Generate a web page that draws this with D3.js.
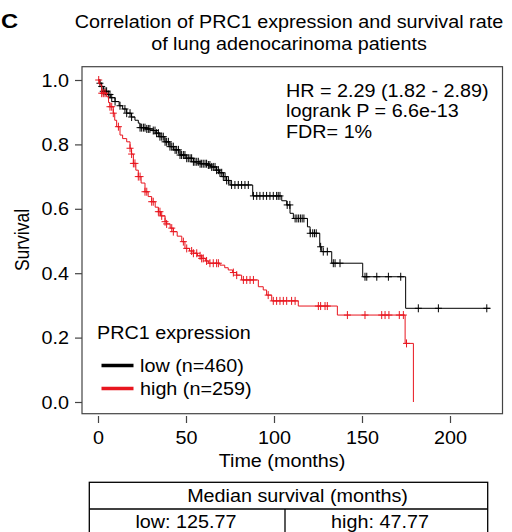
<!DOCTYPE html>
<html>
<head>
<meta charset="utf-8">
<script src="https://cdn.jsdelivr.net/npm/d3@7"></script>
<style>
  body { margin: 0; background: #fff; }
  text { font-family: "Liberation Sans", Arial, sans-serif; fill: #000; }
</style>
</head>
<body>
<div id="container"></div>
<script>
var w = 512;
var h = 532;
var FS = 17.5;   // font size
var SX = 1.13;   // the reference is a little stretched sideways

// ---- data ----
var titleLines = ["Correlation of PRC1 expression and survival rate", "of lung adenocarinoma patients"];
var statLines = ["HR = 2.29 (1.82 - 2.89)", "logrank P = 6.6e-13", "FDR= 1%"];
var legendTitle = "PRC1 expression";
var groups = ["low (n=460)", "high (n=259)"];
var groupColors = ["#000000", "#e8161f"];
var medianTitle = "Median survival (months)";
var medians = ["low: 125.77", "high: 47.77"];
var xTicks = [0, 50, 100, 150, 200];
var yTicks = [0, 0.2, 0.4, 0.6, 0.8, 1.0];

// low group: step times and survival after each step (last = end of follow-up)
var lowTime = [0, 1, 2, 3, 5, 7, 9.7, 12, 14, 16.3, 19, 21, 22.9, 23.9, 27, 31.4, 33, 35.2, 38, 40.9,
  43, 46.6, 50, 54.2, 58, 61.8, 64, 67.4, 69, 71.2, 73, 75, 87.9, 104.4, 107.2, 109.1, 111, 119,
  120.5, 126, 127.1, 132.8, 150.4, 174.8, 223];
var lowSurv = [1.0, 0.99, 0.98, 0.965, 0.955, 0.945, 0.933, 0.92, 0.91, 0.897, 0.885, 0.875, 0.866, 0.852, 0.848, 0.843, 0.835, 0.824, 0.808, 0.793,
  0.783, 0.767, 0.757, 0.746, 0.74, 0.736, 0.73, 0.72, 0.712, 0.7, 0.688, 0.674, 0.64, 0.625, 0.612, 0.586, 0.57, 0.544,
  0.524, 0.482, 0.467, 0.431, 0.389, 0.291, 0.291];
var lowCensor = [1.1, 2.1, 3.0, 4.0, 4.9, 5.9, 6.8, 7.8, 9.7, 12.5, 15.3, 16.3, 18.2, 19.1, 23.9, 24.8, 25.8, 26.7,
  27.7, 28.6, 29.5, 31.4, 32.4, 33.3, 34.3, 35.2, 36.2, 37.1, 38.1, 39.0, 40.0, 40.9, 41.9, 42.8, 43.8, 44.7,
  45.7, 46.6, 47.5, 48.5, 49.4, 50.4, 51.3, 52.3, 53.2, 54.2, 55.1, 56.1, 57.0, 58.0, 58.9, 59.8, 60.8, 61.7,
  62.7, 63.6, 64.6, 65.5, 66.5, 67.4, 68.4, 69.3, 70.3, 71.2, 72.2, 73.1, 74.1, 75.9, 77.8, 79.7, 81.6, 83.5,
  85.4, 88.3, 90.2, 92.0, 93.9, 95.8, 97.7, 99.6, 101.5, 102.4, 103.4, 107.5, 109, 112, 113, 114, 115, 116,
  117, 120.6, 122, 123, 124, 126.5, 128, 130.3, 133.7, 134.7, 137.5, 151.7, 152.7, 158.4, 165, 172, 182,
  193.4, 220.9];

// high group
var highTime = [0, 1, 2.1, 4.9, 6, 6.8, 8.7, 9.5, 10.6, 12.5, 14, 16.3, 18.2, 19, 20.1, 21.5, 22.9, 24.5,
  26.7, 28.5, 30.5, 32.5, 34.3, 35.5, 38.1, 39, 41, 42.8, 45, 47.6, 49.4, 52, 54.2, 56.5, 58.9, 61, 62.7,
  69.3, 72, 74, 76.5, 78.8, 81.6, 91.1, 93.9, 95.8, 98.7, 113.8, 136, 174.5, 179.2];
var highSurv = [1.0, 0.985, 0.959, 0.948, 0.93, 0.917, 0.897, 0.875, 0.855, 0.829, 0.818, 0.808, 0.788, 0.77, 0.741, 0.72, 0.7, 0.68,
  0.653, 0.638, 0.622, 0.605, 0.591, 0.578, 0.56, 0.553, 0.54, 0.529, 0.515, 0.498, 0.477, 0.469, 0.462, 0.454, 0.446, 0.438, 0.431,
  0.425, 0.417, 0.41, 0.402, 0.394, 0.379, 0.358, 0.348, 0.332, 0.314, 0.298, 0.27, 0.182, 0.0];
var highCensor = [0.4, 2.1, 3.0, 4.0, 6.8, 7.8, 8.7, 11.6, 18.2, 19.1, 20.1, 21.0, 22.9, 23.9, 26.7, 27.7,
  30.5, 31.4, 34.3, 35.2, 36.2, 38.1, 39.0, 41.9, 42.8, 48.5, 50.4, 53.2, 54.2, 56.1, 58.0, 58.9, 59.8,
  61.7, 63.6, 65.5, 67.4, 68.4, 76.9, 78.8, 82.6, 84.5, 86.4, 88.3, 96.7, 99.6, 101.5, 103.4, 105.3,
  107.2, 110, 112, 125.2, 126.5, 129, 130.3, 141.7, 151.7, 161.2, 163.1, 165.3, 171.2, 173.5, 175.3];

var curves = [
  { time: lowTime, surv: lowSurv, censor: lowCensor },
  { time: highTime, surv: highSurv, censor: highCensor }
];

var svg = d3.select("div#container")
  .append("svg")
  .attr("width", w)
  .attr("height", h)
  .style("display", "block")
  .style("background", "#fff");

var x = d3.scaleLinear().domain([0, 200]).range([98, 450]);
var y = d3.scaleLinear().domain([0, 1]).range([402, 80]);

// text that gets the sideways stretch
function label(g, tx, ty, s, anchor) {
  return g.append("text")
    .attr("transform", "translate(" + tx + "," + ty + ") scale(" + SX + ",1)")
    .attr("text-anchor", anchor || "start")
    .style("font-size", FS + "px")
    .text(s);
}

// panel letter
label(svg, 1, 28, "C", "start").style("font-weight", "bold").style("font-size", "21px");

// title
titleLines.forEach(function (s, i) {
  label(svg, 289, 28 + i * 22, s, "middle");
});

// plot box
svg.append("rect")
  .attr("x", 82).attr("y", 66.7)
  .attr("width", 420.5).attr("height", 347)
  .attr("fill", "none").attr("stroke", "#444").attr("stroke-width", 1.2);

// axes
var yAxis = svg.append("g")
  .attr("transform", "translate(82,0)")
  .call(d3.axisLeft(y).tickValues(yTicks).tickFormat(d3.format(".1f")).tickSize(7).tickSizeOuter(0));
yAxis.select(".domain").remove();
yAxis.selectAll("line").attr("stroke", "#444").attr("stroke-width", 1.2);
yAxis.selectAll("text")
  .attr("x", null).attr("dy", null)
  .attr("transform", "translate(-13,6) scale(" + SX + ",1)")
  .style("font-size", FS + "px").style("font-family", null);

var xAxis = svg.append("g")
  .attr("transform", "translate(0,416)")
  .call(d3.axisBottom(x).tickValues(xTicks).tickSize(7).tickSizeOuter(0));
xAxis.select(".domain").remove();
xAxis.selectAll("line").attr("stroke", "#444").attr("stroke-width", 1.2);
xAxis.selectAll("text")
  .attr("y", null).attr("dy", null)
  .attr("transform", "translate(0,28) scale(" + SX + ",1)")
  .style("font-size", FS + "px").style("font-family", null);

label(svg, 282, 466.5, "Time (months)", "middle");
svg.append("text")
  .attr("transform", "translate(29,240) scale(" + SX + ",1) rotate(-90)")
  .attr("text-anchor", "middle")
  .style("font-size", FS + "px")
  .text("Survival");

// survival curves
var line = d3.line()
  .x(function (d) { return x(d[0]); })
  .y(function (d) { return y(d[1]); })
  .curve(d3.curveStepAfter);

function survAt(c, t) {
  var i = d3.bisectRight(c.time, t) - 1;
  return c.surv[Math.max(0, i)];
}

curves.forEach(function (c, k) {
  var g = svg.append("g").attr("stroke", groupColors[k]).attr("fill", "none");
  g.append("path")
    .attr("d", line(d3.zip(c.time, c.surv)))
    .attr("stroke-width", 1);
  g.selectAll("path.cens")
    .data(c.censor)
    .enter()
    .append("path")
    .attr("class", "cens")
    .attr("stroke-width", 1)
    .attr("d", function (t) {
      var px = x(t), py = y(survAt(c, t));
      return "M" + (px - 3.5) + "," + py + "H" + (px + 3.5) + "M" + px + "," + (py - 4) + "V" + (py + 4);
    });
});

// stats text
statLines.forEach(function (s, i) {
  label(svg, 286, 96.7 + i * 20.4, s, "start");
});

// legend
label(svg, 97, 339, legendTitle, "start");
groups.forEach(function (s, i) {
  var ly = 365.5 + i * 23;
  svg.append("line")
    .attr("x1", 101.5).attr("x2", 133.5)
    .attr("y1", ly).attr("y2", ly)
    .attr("stroke", groupColors[i]).attr("stroke-width", 3.5);
  label(svg, 140, ly + 6, s, "start");
});

// median table
var tbl = svg.append("g").attr("stroke", "#000").attr("stroke-width", 1.3).attr("fill", "none");
tbl.append("rect").attr("x", 89.3).attr("y", 482.3).attr("width", 398.4).attr("height", 80);
tbl.append("line").attr("x1", 89.3).attr("x2", 487.7).attr("y1", 509).attr("y2", 509);
tbl.append("line").attr("x1", 285).attr("x2", 285).attr("y1", 509).attr("y2", 540);
label(svg, 297.5, 502, medianTitle, "middle");
label(svg, 186, 528, medians[0], "middle");
label(svg, 380, 528, medians[1], "middle");
</script>
</body>
</html>
